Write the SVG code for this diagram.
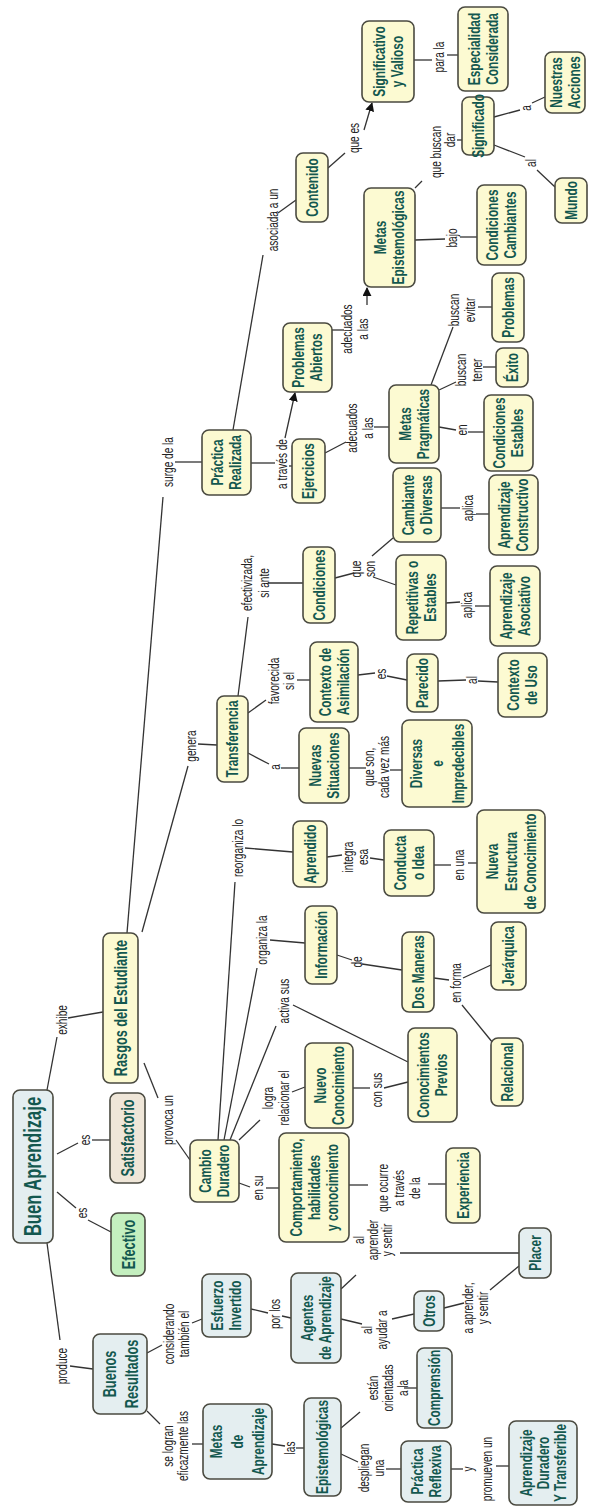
<svg xmlns="http://www.w3.org/2000/svg" width="589" height="1507" viewBox="0 0 589 1507">
<defs>
<style>
.n rect{stroke:#4a4a40;stroke-width:1.6}
.y rect{fill:#fcfad2}
.b rect{fill:#e4eef0}
.s rect{fill:#efe6d8}
.g rect{fill:#c4efbf}
.t{font-family:"Liberation Sans",Arial,sans-serif;font-weight:bold;font-size:16px;fill:#13584f;text-anchor:middle}
.t1{font-size:19px}
.t0{font-size:23px}
.l{font-family:"Liberation Sans",Arial,sans-serif;font-size:14px;fill:#222;text-anchor:middle}
#connectors line{stroke:#333;stroke-width:1.3}
</style>
<marker id="ar" viewBox="0 0 10 10" refX="9" refY="5" markerWidth="9" markerHeight="9" orient="auto" markerUnits="userSpaceOnUse"><path d="M0,0 L10,5 L0,10 z" fill="#111"/></marker>
</defs>
<rect x="0" y="0" width="589" height="1507" fill="#fff"/>
<g id="connectors">
<line x1="47" y1="1090" x2="57" y2="1037"/><line x1="68" y1="1018" x2="103" y2="1012"/>
<line x1="57" y1="1154" x2="78" y2="1143"/><line x1="92" y1="1140" x2="110" y2="1140"/>
<line x1="57" y1="1192" x2="76" y2="1208"/><line x1="88" y1="1220" x2="111" y2="1232"/>
<line x1="144" y1="1063" x2="158" y2="1098"/><line x1="176" y1="1140" x2="190" y2="1160"/>
<line x1="47" y1="1243" x2="60" y2="1340"/><line x1="70" y1="1366" x2="93" y2="1369"/>
<line x1="147" y1="1353" x2="162" y2="1345"/><line x1="192" y1="1323" x2="202" y2="1319"/>
<line x1="147" y1="1411" x2="160" y2="1424"/><line x1="192" y1="1444" x2="203" y2="1444"/>
<line x1="251" y1="1309" x2="268" y2="1313"/><line x1="282" y1="1316" x2="291" y2="1318"/>
<line x1="272" y1="1444" x2="285" y2="1446"/><line x1="296" y1="1448" x2="304" y2="1448"/>
<line x1="341" y1="1289" x2="356" y2="1275"/><line x1="400" y1="1253" x2="519" y2="1253"/>
<line x1="341" y1="1319" x2="362" y2="1324"/><line x1="392" y1="1319" x2="414" y2="1314"/>
<line x1="444" y1="1308" x2="464" y2="1303"/><line x1="490" y1="1290" x2="519" y2="1266"/>
<line x1="341" y1="1428" x2="360" y2="1412"/><line x1="404" y1="1388" x2="417" y2="1388"/>
<line x1="341" y1="1454" x2="358" y2="1462"/><line x1="386" y1="1469" x2="401" y2="1469"/>
<line x1="451" y1="1469" x2="463" y2="1469"/><line x1="496" y1="1466" x2="509" y2="1466"/>
<line x1="239" y1="1183" x2="250" y2="1187"/><line x1="266" y1="1188" x2="279" y2="1188"/>
<line x1="239" y1="1140" x2="260" y2="1120"/><line x1="292" y1="1092" x2="305" y2="1087"/>
<line x1="353" y1="1088" x2="370" y2="1088"/><line x1="384" y1="1088" x2="408" y2="1082"/>
<line x1="349" y1="1185" x2="368" y2="1185"/><line x1="428" y1="1184" x2="446" y2="1184"/>
<line x1="218" y1="1140" x2="235" y2="882"/><line x1="245" y1="848" x2="293" y2="852"/>
<line x1="224" y1="1140" x2="257" y2="968"/><line x1="270" y1="940" x2="305" y2="943"/>
<line x1="230" y1="1140" x2="276" y2="1026"/><line x1="293" y1="1005" x2="408" y2="1062"/>
<line x1="327" y1="857" x2="342" y2="855"/><line x1="370" y1="858" x2="384" y2="860"/>
<line x1="434" y1="865" x2="451" y2="865"/><line x1="468" y1="863" x2="477" y2="863"/>
<line x1="337" y1="955" x2="352" y2="960"/><line x1="362" y1="964" x2="402" y2="970"/>
<line x1="434" y1="978" x2="449" y2="980"/><line x1="463" y1="978" x2="491" y2="965"/><line x1="462" y1="1005" x2="493" y2="1043"/>
<line x1="142" y1="932" x2="188" y2="766"/><line x1="198" y1="744" x2="217" y2="745"/>
<line x1="127" y1="933" x2="163" y2="497"/><line x1="175" y1="462" x2="202" y2="462"/>
<line x1="248" y1="713" x2="266" y2="700"/><line x1="297" y1="680" x2="310" y2="680"/>
<line x1="238" y1="696" x2="248" y2="617"/><line x1="268" y1="583" x2="303" y2="583"/>
<line x1="248" y1="753" x2="269" y2="764"/><line x1="281" y1="768" x2="299" y2="768"/>
<line x1="349" y1="768" x2="366" y2="768"/><line x1="390" y1="770" x2="402" y2="770"/>
<line x1="335" y1="578" x2="354" y2="573"/><line x1="373" y1="577" x2="396" y2="585"/><line x1="372" y1="556" x2="393" y2="538"/>
<line x1="446" y1="603" x2="460" y2="602"/><line x1="475" y1="606" x2="490" y2="606"/>
<line x1="441" y1="508" x2="460" y2="508"/><line x1="476" y1="514" x2="489" y2="514"/>
<line x1="358" y1="675" x2="375" y2="673"/><line x1="387" y1="676" x2="407" y2="680"/>
<line x1="438" y1="681" x2="466" y2="680"/><line x1="478" y1="681" x2="498" y2="682"/>
<line x1="233" y1="430" x2="263" y2="255"/><line x1="278" y1="213" x2="296" y2="200"/>
<line x1="251" y1="463" x2="275" y2="463"/><line x1="289" y1="466" x2="292" y2="466"/><line x1="285" y1="438" x2="295" y2="393" marker-end="url(#ar)"/>
<line x1="325" y1="453" x2="346" y2="442"/><line x1="374" y1="427" x2="389" y2="427"/>
<line x1="332" y1="330" x2="344" y2="330"/><line x1="367" y1="305" x2="367" y2="288" marker-end="url(#ar)"/>
<line x1="439" y1="390" x2="456" y2="382"/><line x1="483" y1="367" x2="496" y2="367"/>
<line x1="431" y1="385" x2="453" y2="327"/><line x1="478" y1="307" x2="492" y2="307"/>
<line x1="439" y1="427" x2="456" y2="430"/><line x1="468" y1="432" x2="484" y2="432"/>
<line x1="328" y1="168" x2="345" y2="153"/><line x1="364" y1="130" x2="372" y2="103" marker-end="url(#ar)"/>
<line x1="414" y1="60" x2="432" y2="60"/><line x1="447" y1="55" x2="458" y2="55"/>
<line x1="415" y1="188" x2="422" y2="181"/><line x1="457" y1="140" x2="462" y2="140"/>
<line x1="415" y1="240" x2="445" y2="239"/><line x1="460" y1="237" x2="477" y2="237"/>
<line x1="494" y1="117" x2="520" y2="110"/><line x1="532" y1="103" x2="545" y2="97"/>
<line x1="494" y1="145" x2="525" y2="157"/><line x1="537" y1="170" x2="555" y2="187"/>
</g>
<g id="link-labels">
<text class="l" transform="translate(62 1020) rotate(-90) scale(.72 1)"><tspan x="0" y="4.9">exhibe</tspan></text>
<text class="l" transform="translate(85 1140) rotate(-90) scale(.72 1)"><tspan x="0" y="4.9">es</tspan></text>
<text class="l" transform="translate(82 1213) rotate(-90) scale(.72 1)"><tspan x="0" y="4.9">es</tspan></text>
<text class="l" transform="translate(168 1120) rotate(-90) scale(.72 1)"><tspan x="0" y="4.9">provoca un</tspan></text>
<text class="l" transform="translate(62 1366) rotate(-90) scale(.72 1)"><tspan x="0" y="4.9">produce</tspan></text>
<text class="l" transform="translate(177 1334) rotate(-90) scale(.72 1)"><tspan x="0" y="-2.6">considerando</tspan><tspan x="0" dy="15">también el</tspan></text>
<text class="l" transform="translate(176 1446) rotate(-90) scale(.72 1)"><tspan x="0" y="-2.6">se logran</tspan><tspan x="0" dy="15">eficazmente las</tspan></text>
<text class="l" transform="translate(275 1314) rotate(-90) scale(.72 1)"><tspan x="0" y="4.9">por los</tspan></text>
<text class="l" transform="translate(290 1448) rotate(-90) scale(.72 1)"><tspan x="0" y="4.9">las</tspan></text>
<text class="l" transform="translate(374 1240) rotate(-90) scale(.72 1)"><tspan x="0" y="-10.1">al</tspan><tspan x="0" dy="14">aprender</tspan><tspan x="0" dy="14">y sentir</tspan></text>
<text class="l" transform="translate(375 1330) rotate(-90) scale(.72 1)"><tspan x="0" y="-2.6">al</tspan><tspan x="0" dy="15">ayudar a</tspan></text>
<text class="l" transform="translate(476 1308) rotate(-90) scale(.72 1)"><tspan x="0" y="-2.6">a aprender,</tspan><tspan x="0" dy="15">y sentir</tspan></text>
<text class="l" transform="translate(388 1388) rotate(-90) scale(.72 1)"><tspan x="0" y="-10.1">están</tspan><tspan x="0" dy="15">orientadas</tspan><tspan x="0" dy="15">a la</tspan></text>
<text class="l" transform="translate(372 1468) rotate(-90) scale(.72 1)"><tspan x="0" y="-2.6">despliegan</tspan><tspan x="0" dy="15">una</tspan></text>
<text class="l" transform="translate(478 1469) rotate(-90) scale(.72 1)"><tspan x="0" y="-4.6">y</tspan><tspan x="0" dy="19">promueven un</tspan></text>
<text class="l" transform="translate(258 1188) rotate(-90) scale(.72 1)"><tspan x="0" y="4.9">en su</tspan></text>
<text class="l" transform="translate(276 1098) rotate(-90) scale(.72 1)"><tspan x="0" y="-2.6">logra</tspan><tspan x="0" dy="16">relacionar el</tspan></text>
<text class="l" transform="translate(377 1090) rotate(-90) scale(.72 1)"><tspan x="0" y="4.9">con sus</tspan></text>
<text class="l" transform="translate(398 1188) rotate(-90) scale(.72 1)"><tspan x="0" y="-10.1">que ocurre</tspan><tspan x="0" dy="16">a través</tspan><tspan x="0" dy="16">de la</tspan></text>
<text class="l" transform="translate(238 848) rotate(-90) scale(.72 1)"><tspan x="0" y="4.9">reorganiza lo</tspan></text>
<text class="l" transform="translate(262 940) rotate(-90) scale(.72 1)"><tspan x="0" y="4.9">organiza la</tspan></text>
<text class="l" transform="translate(284 1001) rotate(-90) scale(.72 1)"><tspan x="0" y="4.9">activa sus</tspan></text>
<text class="l" transform="translate(356 857) rotate(-90) scale(.72 1)"><tspan x="0" y="-2.6">integra</tspan><tspan x="0" dy="15">esa</tspan></text>
<text class="l" transform="translate(459 865) rotate(-90) scale(.72 1)"><tspan x="0" y="4.9">en una</tspan></text>
<text class="l" transform="translate(357 962) rotate(-90) scale(.72 1)"><tspan x="0" y="4.9">de</tspan></text>
<text class="l" transform="translate(456 983) rotate(-90) scale(.72 1)"><tspan x="0" y="4.9">en forma</tspan></text>
<text class="l" transform="translate(191 746) rotate(-90) scale(.72 1)"><tspan x="0" y="4.9">genera</tspan></text>
<text class="l" transform="translate(168 462) rotate(-90) scale(.72 1)"><tspan x="0" y="4.9">surge de la</tspan></text>
<text class="l" transform="translate(282 681) rotate(-90) scale(.72 1)"><tspan x="0" y="-2.6">favorecida</tspan><tspan x="0" dy="15">si el</tspan></text>
<text class="l" transform="translate(256 583) rotate(-90) scale(.72 1)"><tspan x="0" y="-3.6">efectivizada,</tspan><tspan x="0" dy="17">si ante</tspan></text>
<text class="l" transform="translate(275 767) rotate(-90) scale(.72 1)"><tspan x="0" y="4.9">a</tspan></text>
<text class="l" transform="translate(377 767) rotate(-90) scale(.72 1)"><tspan x="0" y="-2.6">que son,</tspan><tspan x="0" dy="15">cada vez más</tspan></text>
<text class="l" transform="translate(364 569) rotate(-90) scale(.72 1)"><tspan x="0" y="-2.6">que</tspan><tspan x="0" dy="14">son</tspan></text>
<text class="l" transform="translate(467 605) rotate(-90) scale(.72 1)"><tspan x="0" y="4.9">aplica</tspan></text>
<text class="l" transform="translate(468 508) rotate(-90) scale(.72 1)"><tspan x="0" y="4.9">aplica</tspan></text>
<text class="l" transform="translate(381 674) rotate(-90) scale(.72 1)"><tspan x="0" y="4.9">es</tspan></text>
<text class="l" transform="translate(472 680) rotate(-90) scale(.72 1)"><tspan x="0" y="4.9">al</tspan></text>
<text class="l" transform="translate(273 220) rotate(-90) scale(.72 1)"><tspan x="0" y="4.9">asociada a un</tspan></text>
<text class="l" transform="translate(282 464) rotate(-90) scale(.72 1)"><tspan x="0" y="4.9">a través de</tspan></text>
<text class="l" transform="translate(360 428) rotate(-90) scale(.72 1)"><tspan x="0" y="-2.6">adecuados</tspan><tspan x="0" dy="16">a las</tspan></text>
<text class="l" transform="translate(355 329) rotate(-90) scale(.72 1)"><tspan x="0" y="-2.6">adecuados</tspan><tspan x="0" dy="16">a las</tspan></text>
<text class="l" transform="translate(469 370) rotate(-90) scale(.72 1)"><tspan x="0" y="-2.6">buscan</tspan><tspan x="0" dy="16">tener</tspan></text>
<text class="l" transform="translate(462 310) rotate(-90) scale(.72 1)"><tspan x="0" y="-2.6">buscan</tspan><tspan x="0" dy="16">evitar</tspan></text>
<text class="l" transform="translate(462 430) rotate(-90) scale(.72 1)"><tspan x="0" y="4.9">en</tspan></text>
<text class="l" transform="translate(354 138) rotate(-90) scale(.72 1)"><tspan x="0" y="4.9">que es</tspan></text>
<text class="l" transform="translate(439 57) rotate(-90) scale(.72 1)"><tspan x="0" y="4.9">para la</tspan></text>
<text class="l" transform="translate(436 152) rotate(-90) scale(.72 1)"><tspan x="0" y="4.9">que buscan</tspan></text>
<text class="l" transform="translate(450 140) rotate(-90) scale(.72 1)"><tspan x="0" y="4.9">dar</tspan></text>
<text class="l" transform="translate(452 238) rotate(-90) scale(.72 1)"><tspan x="0" y="4.9">bajo</tspan></text>
<text class="l" transform="translate(526 108) rotate(-90) scale(.72 1)"><tspan x="0" y="4.9">a</tspan></text>
<text class="l" transform="translate(531 163) rotate(-90) scale(.72 1)"><tspan x="0" y="4.9">al</tspan></text>
</g>
<g id="n-buen" class="n b"><rect x="13" y="1090" width="40" height="153" rx="7"/><text class="t t0" transform="translate(33 1166.5) rotate(-90) scale(.72 1)"><tspan x="0" y="8">Buen Aprendizaje</tspan></text></g>
<g id="n-rasgos" class="n y"><rect x="103" y="933" width="35" height="150" rx="7"/><text class="t t1" transform="translate(120.5 1008) rotate(-90) scale(.67 1)"><tspan x="0" y="6.6">Rasgos del Estudiante</tspan></text></g>
<g id="n-satisfactorio" class="n s"><rect x="110" y="1093" width="35" height="90" rx="7"/><text class="t t1" transform="translate(127.5 1138) rotate(-90) scale(.67 1)"><tspan x="0" y="6.6">Satisfactorio</tspan></text></g>
<g id="n-efectivo" class="n g"><rect x="111" y="1213" width="34" height="63" rx="7"/><text class="t t1" transform="translate(128 1244.5) rotate(-90) scale(.67 1)"><tspan x="0" y="6.6">Efectivo</tspan></text></g>
<g id="n-cambio" class="n y"><rect x="190" y="1140" width="49" height="62" rx="7"/><text class="t" transform="translate(214.5 1171) rotate(-90) scale(.74 1)"><tspan x="0" y="-3.4">Cambio</tspan><tspan x="0" dy="18">Duradero</tspan></text></g>
<g id="n-buenos" class="n b"><rect x="93" y="1334" width="54" height="80" rx="7"/><text class="t t1" transform="translate(120 1374) rotate(-90) scale(.67 1)"><tspan x="0" y="-4.4">Buenos</tspan><tspan x="0" dy="22">Resultados</tspan></text></g>
<g id="n-esfuerzo" class="n b"><rect x="202" y="1274" width="49" height="63" rx="7"/><text class="t" transform="translate(226.5 1305.5) rotate(-90) scale(.74 1)"><tspan x="0" y="-3.4">Esfuerzo</tspan><tspan x="0" dy="18">Invertido</tspan></text></g>
<g id="n-metas-apr" class="n b"><rect x="203" y="1404" width="69" height="75" rx="7"/><text class="t" transform="translate(237.5 1441.5) rotate(-90) scale(.74 1)"><tspan x="0" y="-15.4">Metas</tspan><tspan x="0" dy="21">de</tspan><tspan x="0" dy="21">Aprendizaje</tspan></text></g>
<g id="n-agentes" class="n b"><rect x="291" y="1273" width="50" height="90" rx="7"/><text class="t" transform="translate(316 1318) rotate(-90) scale(.74 1)"><tspan x="0" y="-3.4">Agentes</tspan><tspan x="0" dy="18">de Aprendizaje</tspan></text></g>
<g id="n-epistemologicas" class="n b"><rect x="304" y="1398" width="37" height="98" rx="7"/><text class="t" transform="translate(322.5 1447) rotate(-90) scale(.74 1)"><tspan x="0" y="5.6">Epistemológicas</tspan></text></g>
<g id="n-otros" class="n b"><rect x="414" y="1291" width="30" height="40" rx="7"/><text class="t" transform="translate(429 1311) rotate(-90) scale(.74 1)"><tspan x="0" y="5.6">Otros</tspan></text></g>
<g id="n-placer" class="n b"><rect x="519" y="1228" width="32" height="50" rx="7"/><text class="t" transform="translate(535 1253) rotate(-90) scale(.74 1)"><tspan x="0" y="5.6">Placer</tspan></text></g>
<g id="n-comprension" class="n b"><rect x="417" y="1348" width="35" height="80" rx="7"/><text class="t" transform="translate(434.5 1388) rotate(-90) scale(.74 1)"><tspan x="0" y="5.6">Comprensión</tspan></text></g>
<g id="n-practica-reflexiva" class="n b"><rect x="401" y="1441" width="50" height="61" rx="7"/><text class="t" transform="translate(426 1471.5) rotate(-90) scale(.74 1)"><tspan x="0" y="-3.4">Práctica</tspan><tspan x="0" dy="18">Reflexiva</tspan></text></g>
<g id="n-aprendizaje-duradero" class="n b"><rect x="509" y="1421" width="68" height="84" rx="7"/><text class="t" transform="translate(543 1463) rotate(-90) scale(.74 1)"><tspan x="0" y="-11.4">Aprendizaje</tspan><tspan x="0" dy="17">Duradero</tspan><tspan x="0" dy="17">Y Transferible</tspan></text></g>
<g id="n-comportamiento" class="n y"><rect x="279" y="1133" width="70" height="109" rx="7"/><text class="t" transform="translate(314 1187.5) rotate(-90) scale(.74 1)"><tspan x="0" y="-12.4">Comportamiento,</tspan><tspan x="0" dy="18">habilidades</tspan><tspan x="0" dy="18">y conocimiento</tspan></text></g>
<g id="n-experiencia" class="n y"><rect x="446" y="1148" width="34" height="75" rx="7"/><text class="t" transform="translate(463 1185.5) rotate(-90) scale(.74 1)"><tspan x="0" y="5.6">Experiencia</tspan></text></g>
<g id="n-nuevo-conocimiento" class="n y"><rect x="305" y="1043" width="48" height="85" rx="7"/><text class="t" transform="translate(329 1085.5) rotate(-90) scale(.74 1)"><tspan x="0" y="-3.4">Nuevo</tspan><tspan x="0" dy="18">Conocimiento</tspan></text></g>
<g id="n-conocimientos-previos" class="n y"><rect x="408" y="1028" width="49" height="94" rx="7"/><text class="t" transform="translate(432.5 1075) rotate(-90) scale(.74 1)"><tspan x="0" y="-3.4">Conocimientos</tspan><tspan x="0" dy="18">Previos</tspan></text></g>
<g id="n-relacional" class="n y"><rect x="491" y="1038" width="32" height="68" rx="7"/><text class="t" transform="translate(507 1072) rotate(-90) scale(.74 1)"><tspan x="0" y="5.6">Relacional</tspan></text></g>
<g id="n-dos-maneras" class="n y"><rect x="402" y="932" width="32" height="80" rx="7"/><text class="t" transform="translate(418 972) rotate(-90) scale(.74 1)"><tspan x="0" y="5.6">Dos Maneras</tspan></text></g>
<g id="n-jerarquica" class="n y"><rect x="491" y="922" width="35" height="68" rx="7"/><text class="t" transform="translate(508.5 956) rotate(-90) scale(.74 1)"><tspan x="0" y="5.6">Jerárquica</tspan></text></g>
<g id="n-informacion" class="n y"><rect x="305" y="906" width="32" height="78" rx="7"/><text class="t" transform="translate(321 945) rotate(-90) scale(.74 1)"><tspan x="0" y="5.6">Información</tspan></text></g>
<g id="n-aprendido" class="n y"><rect x="293" y="821" width="34" height="66" rx="7"/><text class="t" transform="translate(310 854) rotate(-90) scale(.74 1)"><tspan x="0" y="5.6">Aprendido</tspan></text></g>
<g id="n-conducta" class="n y"><rect x="384" y="830" width="50" height="66" rx="7"/><text class="t" transform="translate(409 863) rotate(-90) scale(.74 1)"><tspan x="0" y="-3.4">Conducta</tspan><tspan x="0" dy="18">o Idea</tspan></text></g>
<g id="n-nueva-estructura" class="n y"><rect x="477" y="810" width="68" height="103" rx="7"/><text class="t" transform="translate(511 861.5) rotate(-90) scale(.74 1)"><tspan x="0" y="-13.4">Nueva</tspan><tspan x="0" dy="19">Estructura</tspan><tspan x="0" dy="19">de Conocimiento</tspan></text></g>
<g id="n-transferencia" class="n y"><rect x="217" y="696" width="31" height="86" rx="7"/><text class="t" transform="translate(232.5 739) rotate(-90) scale(.74 1)"><tspan x="0" y="5.6">Transferencia</tspan></text></g>
<g id="n-nuevas-situaciones" class="n y"><rect x="299" y="728" width="50" height="75" rx="7"/><text class="t" transform="translate(324 765.5) rotate(-90) scale(.74 1)"><tspan x="0" y="-3.4">Nuevas</tspan><tspan x="0" dy="18">Situaciones</tspan></text></g>
<g id="n-diversas" class="n y"><rect x="402" y="720" width="70" height="87" rx="7"/><text class="t" transform="translate(437 763.5) rotate(-90) scale(.74 1)"><tspan x="0" y="-15.4">Diversas</tspan><tspan x="0" dy="21">e</tspan><tspan x="0" dy="21">Impredecibles</tspan></text></g>
<g id="n-contexto-asimilacion" class="n y"><rect x="310" y="642" width="48" height="80" rx="7"/><text class="t" transform="translate(334 682) rotate(-90) scale(.74 1)"><tspan x="0" y="-3.4">Contexto de</tspan><tspan x="0" dy="18">Asimilación</tspan></text></g>
<g id="n-parecido" class="n y"><rect x="407" y="654" width="31" height="58" rx="7"/><text class="t" transform="translate(422.5 683) rotate(-90) scale(.74 1)"><tspan x="0" y="5.6">Parecido</tspan></text></g>
<g id="n-contexto-uso" class="n y"><rect x="498" y="653" width="49" height="64" rx="7"/><text class="t" transform="translate(522.5 685) rotate(-90) scale(.74 1)"><tspan x="0" y="-3.4">Contexto</tspan><tspan x="0" dy="18">de Uso</tspan></text></g>
<g id="n-condiciones" class="n y"><rect x="303" y="547" width="32" height="76" rx="7"/><text class="t" transform="translate(319 585) rotate(-90) scale(.74 1)"><tspan x="0" y="5.6">Condiciones</tspan></text></g>
<g id="n-repetitivas" class="n y"><rect x="396" y="555" width="50" height="85" rx="7"/><text class="t" transform="translate(421 597.5) rotate(-90) scale(.74 1)"><tspan x="0" y="-3.4">Repetitivas o</tspan><tspan x="0" dy="18">Estables</tspan></text></g>
<g id="n-aprendizaje-asociativo" class="n y"><rect x="490" y="566" width="50" height="80" rx="7"/><text class="t" transform="translate(515 606) rotate(-90) scale(.74 1)"><tspan x="0" y="-3.4">Aprendizaje</tspan><tspan x="0" dy="18">Asociativo</tspan></text></g>
<g id="n-cambiante" class="n y"><rect x="393" y="468" width="48" height="74" rx="7"/><text class="t" transform="translate(417 505) rotate(-90) scale(.74 1)"><tspan x="0" y="-3.4">Cambiante</tspan><tspan x="0" dy="18">o Diversas</tspan></text></g>
<g id="n-aprendizaje-constructivo" class="n y"><rect x="489" y="475" width="49" height="80" rx="7"/><text class="t" transform="translate(513.5 515) rotate(-90) scale(.74 1)"><tspan x="0" y="-3.4">Aprendizaje</tspan><tspan x="0" dy="18">Constructivo</tspan></text></g>
<g id="n-ejercicios" class="n y"><rect x="292" y="439" width="33" height="64" rx="7"/><text class="t" transform="translate(308.5 471) rotate(-90) scale(.74 1)"><tspan x="0" y="5.6">Ejercicios</tspan></text></g>
<g id="n-practica-realizada" class="n y"><rect x="202" y="430" width="49" height="65" rx="7"/><text class="t" transform="translate(226.5 462.5) rotate(-90) scale(.74 1)"><tspan x="0" y="-3.4">Práctica</tspan><tspan x="0" dy="18">Realizada</tspan></text></g>
<g id="n-problemas-abiertos" class="n y"><rect x="283" y="323" width="49" height="69" rx="7"/><text class="t" transform="translate(307.5 357.5) rotate(-90) scale(.74 1)"><tspan x="0" y="-3.4">Problemas</tspan><tspan x="0" dy="18">Abiertos</tspan></text></g>
<g id="n-metas-pragmaticas" class="n y"><rect x="389" y="385" width="50" height="78" rx="7"/><text class="t" transform="translate(414 424) rotate(-90) scale(.74 1)"><tspan x="0" y="-3.4">Metas</tspan><tspan x="0" dy="18">Pragmáticas</tspan></text></g>
<g id="n-condiciones-estables" class="n y"><rect x="484" y="395" width="49" height="76" rx="7"/><text class="t" transform="translate(508.5 433) rotate(-90) scale(.74 1)"><tspan x="0" y="-3.4">Condiciones</tspan><tspan x="0" dy="18">Estables</tspan></text></g>
<g id="n-exito" class="n y"><rect x="496" y="348" width="32" height="39" rx="7"/><text class="t" transform="translate(512 367.5) rotate(-90) scale(.74 1)"><tspan x="0" y="5.6">Éxito</tspan></text></g>
<g id="n-problemas" class="n y"><rect x="492" y="273" width="32" height="69" rx="7"/><text class="t" transform="translate(508 307.5) rotate(-90) scale(.74 1)"><tspan x="0" y="5.6">Problemas</tspan></text></g>
<g id="n-metas-epistemologicas" class="n y"><rect x="364" y="188" width="51" height="99" rx="7"/><text class="t" transform="translate(389.5 237.5) rotate(-90) scale(.74 1)"><tspan x="0" y="-3.4">Metas</tspan><tspan x="0" dy="18">Epistemológicas</tspan></text></g>
<g id="n-condiciones-cambiantes" class="n y"><rect x="477" y="185" width="49" height="80" rx="7"/><text class="t" transform="translate(501.5 225) rotate(-90) scale(.74 1)"><tspan x="0" y="-3.4">Condiciones</tspan><tspan x="0" dy="18">Cambiantes</tspan></text></g>
<g id="n-contenido" class="n y"><rect x="296" y="153" width="32" height="69" rx="7"/><text class="t" transform="translate(312 187.5) rotate(-90) scale(.74 1)"><tspan x="0" y="5.6">Contenido</tspan></text></g>
<g id="n-significativo" class="n y"><rect x="362" y="21" width="52" height="81" rx="7"/><text class="t" transform="translate(388 61.5) rotate(-90) scale(.74 1)"><tspan x="0" y="-3.4">Significativo</tspan><tspan x="0" dy="18">y Valioso</tspan></text></g>
<g id="n-especialidad" class="n y"><rect x="458" y="7" width="50" height="84" rx="7"/><text class="t" transform="translate(483 49) rotate(-90) scale(.74 1)"><tspan x="0" y="-3.4">Especialidad</tspan><tspan x="0" dy="18">Considerada</tspan></text></g>
<g id="n-significado" class="n y"><rect x="462" y="97" width="32" height="58" rx="7"/><text class="t" transform="translate(478 126) rotate(-90) scale(.74 1)"><tspan x="0" y="5.6">Significado</tspan></text></g>
<g id="n-nuestras-acciones" class="n y"><rect x="545" y="52" width="40" height="61" rx="7"/><text class="t" transform="translate(565 82.5) rotate(-90) scale(.74 1)"><tspan x="0" y="-3.4">Nuestras</tspan><tspan x="0" dy="18">Acciones</tspan></text></g>
<g id="n-mundo" class="n y"><rect x="555" y="178" width="32" height="45" rx="7"/><text class="t" transform="translate(571 200.5) rotate(-90) scale(.74 1)"><tspan x="0" y="5.6">Mundo</tspan></text></g>
</svg>
